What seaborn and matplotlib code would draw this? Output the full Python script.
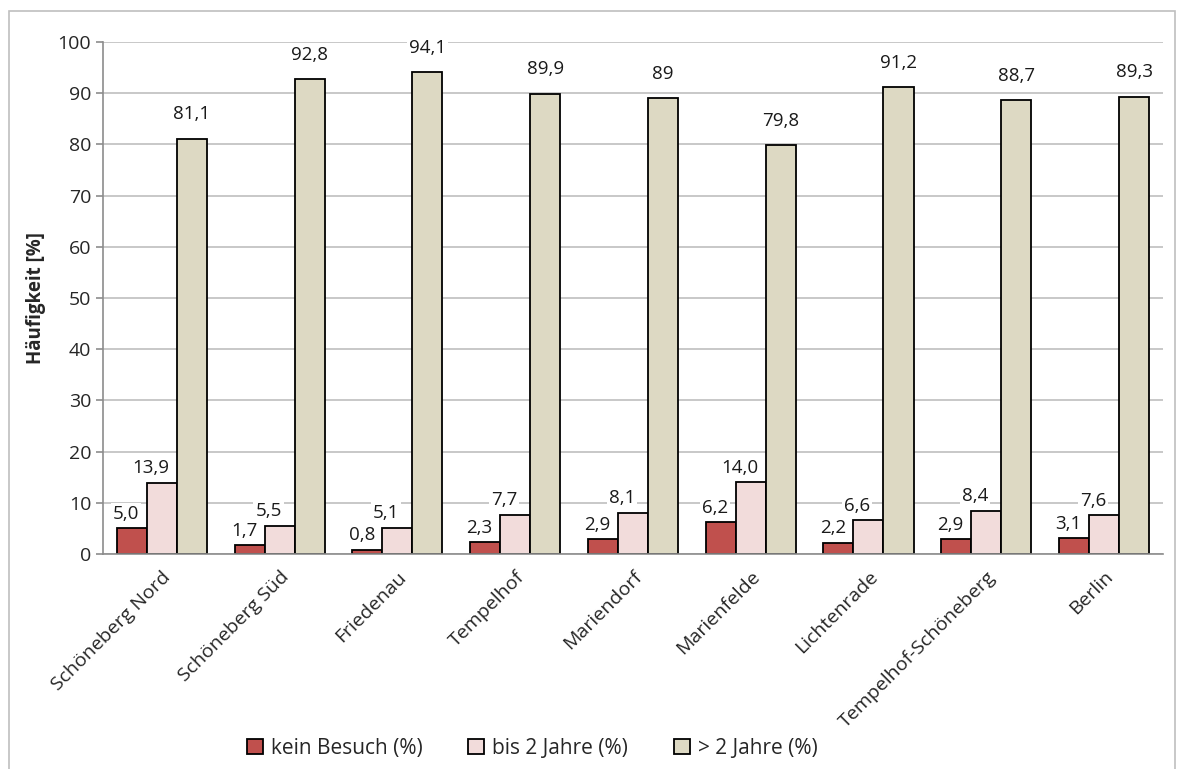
import pandas as pd
import matplotlib
matplotlib.use("Agg")
import matplotlib.pyplot as plt
import seaborn as sns
from matplotlib.patches import Rectangle

# Daten
orte = ["Schöneberg Nord", "Schöneberg Süd", "Friedenau", "Tempelhof", "Mariendorf",
        "Marienfelde", "Lichtenrade", "Tempelhof-Schöneberg", "Berlin"]
kein_besuch = [5.0, 1.7, 0.8, 2.3, 2.9, 6.2, 2.2, 2.9, 3.1]
bis_2_jahre = [13.9, 5.5, 5.1, 7.7, 8.1, 14.0, 6.6, 8.4, 7.6]
ueber_2_jahre = [81.1, 92.8, 94.1, 89.9, 89.0, 79.8, 91.2, 88.7, 89.3]
serien = ["kein Besuch (%)", "bis 2 Jahre (%)", "> 2 Jahre (%)"]
farben = ["#C0504D", "#F2DCDB", "#DDD9C3"]

df = pd.DataFrame({"Ort": orte, serien[0]: kein_besuch, serien[1]: bis_2_jahre,
                   serien[2]: ueber_2_jahre})
df = df.melt(id_vars="Ort", var_name="Serie", value_name="Wert")

sns.set_style("white")
plt.rcParams["font.family"] = ["Open Sans", "DejaVu Sans"]

fig = plt.figure(figsize=(11.83, 7.69), dpi=100)
ax = fig.add_axes([0.087, 0.2796, 0.896, 0.6658])
fig.patches.append(Rectangle((0.008, -0.01), 0.985, 0.996, transform=fig.transFigure,
                             fill=False, edgecolor="#BFBFBF", linewidth=1.2))

sns.barplot(data=df, x="Ort", y="Wert", hue="Serie", hue_order=serien, palette=farben,
            width=0.765, edgecolor="black", linewidth=1.3, saturation=1, ax=ax)

# Beschriftungen
versatz = [(-4, 4), (-8, 4), (0, 11)]
for i, cont in enumerate(ax.containers):
    for bar in cont:
        v = bar.get_height()
        txt = (f"{v:g}" if i == 2 else f"{v:.1f}").replace(".", ",")
        ax.annotate(txt, (bar.get_x() + bar.get_width() / 2, v),
                    xytext=versatz[i], textcoords="offset points", ha="center", va="bottom",
                    fontsize=13.5, color="#1a1a1a",
                    bbox=dict(facecolor="white", edgecolor="none", pad=1.5))

ax.set_ylim(0, 100)
ax.set_xlim(-0.5, len(orte) - 0.5)
ax.set_yticks(range(0, 101, 10))
ax.yaxis.grid(True, color="#BFBFBF", linewidth=1.2)
ax.set_axisbelow(True)
ax.set_xticks([k + 0.5 for k in range(-1, len(orte))], minor=True)
ax.tick_params(axis="x", which="major", length=0, labelsize=14, pad=10)
ax.tick_params(axis="x", which="minor", length=6, color="#8C8C8C", width=1.2)
ax.tick_params(axis="y", length=5, color="#8C8C8C", width=1.2, labelsize=14, left=True)
plt.setp(ax.get_xticklabels(), rotation=45, ha="right", rotation_mode="anchor")
for s in ["top", "right"]:
    ax.spines[s].set_visible(False)
for s in ["left", "bottom"]:
    ax.spines[s].set_color("#8C8C8C")
    ax.spines[s].set_linewidth(1.2)

ax.set_xlabel("")
ax.set_ylabel("Häufigkeit [%]", fontsize=13.5, fontweight="bold", labelpad=8)

ax.legend(loc="center", ncol=3, frameon=False,
          fontsize=15, handlelength=0.75, handleheight=0.75, handletextpad=0.4,
          columnspacing=2.2)
leg = ax.get_legend()
leg.set_bbox_to_anchor((0.45, 0.027), transform=fig.transFigure)

fig.savefig("out.png", dpi=100)
